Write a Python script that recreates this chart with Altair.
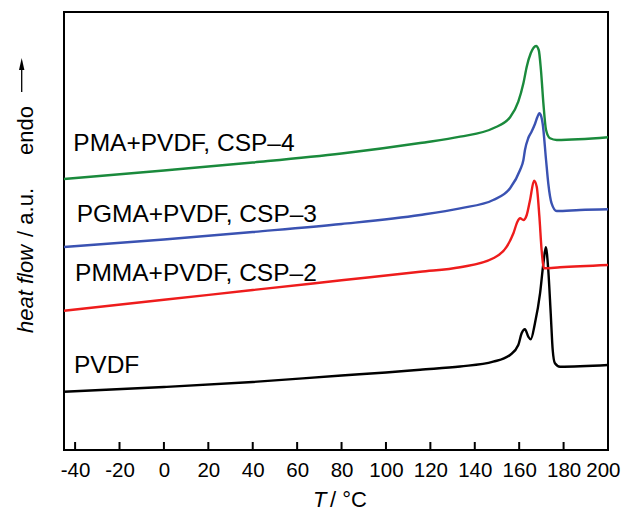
import altair as alt
import pandas as pd

# ---- data (T in °C, heat flow in arbitrary units) ----
pvdf_T = [-45, 0, 40, 80, 100, 115.4, 133.4, 148.3, 155.9, 159.6, 161.1, 162.6, 164.1, 165.2,
          167.1, 169.4, 170.9, 172, 173.1, 174.2, 175.1, 176.1, 178.4, 200]
pvdf_hf = [58.3, 63, 68, 74.5, 77.5, 80.3, 83.5, 88.3, 95, 105, 116.7, 120.7, 113.3, 110.7,
           126.7, 156.7, 186.7, 202.7, 180, 136.7, 100, 86.7, 83.3, 85]

pmma_T = [-45, 0, 40, 80, 115.4, 133.4, 148.3, 154.4, 157.4, 159.2, 160.4, 161.9, 163.4,
          164.9, 166.7, 167.9, 169.1, 170.1, 171.2, 178.4, 200]
pmma_hf = [139.3, 150.2, 160, 169.7, 178.3, 182.7, 191.7, 203.3, 216.7, 228.3, 231.7, 230, 235,
           250, 269.3, 263.3, 233.3, 200, 181.7, 182.7, 185]

pgma_T = [-45, 0, 40, 80, 115.4, 133.4, 148.3, 155.9, 160.4, 161.9, 162.6, 164.1, 165.5,
          167.1, 168.2, 169.1, 170.0, 170.6, 172.1, 173.1, 174.6, 176.9, 187.4, 200]
pgma_hf = [203, 210.5, 218, 226, 235, 241.7, 250, 261.7, 280, 290, 300, 312, 318,
           326, 333, 336.7, 333, 326, 290, 266.7, 246.7, 239, 240, 240.7]

pma_T = [-45, 0, 40, 80, 115.4, 133.4, 148.3, 155.9, 159.6, 161.9, 163.4, 165.2, 167.6,
         168.8, 169.8, 170.9, 172.1, 173.9, 176.9, 200]
pma_hf = [271, 279.5, 287.5, 296.5, 307, 313.3, 321.7, 332.7, 348.3, 366.7, 383.3, 396.7, 404,
          400, 380, 346.7, 320, 311.7, 310, 312.7]

series_names = ["PVDF", "PMMA+PVDF, CSP–2", "PGMA+PVDF, CSP–3", "PMA+PVDF, CSP–4"]
series_colors = ["#000000", "#ee1c1c", "#3a52b2", "#1a8a3c"]

# curve labels (anchor: left / baseline)
label_text = ["PVDF", "PMMA+PVDF, CSP–2", "PGMA+PVDF, CSP–3", "PMA+PVDF, CSP–4"]
label_T = [-40.5, -40.0, -39.3, -40.8]
label_hf = [76.7, 169.3, 228, 299.3]

x_ticks = list(range(-40, 201, 20))

# ---- build tables ----
rows = []
for name, Ts, hfs in zip(series_names,
                         [pvdf_T, pmma_T, pgma_T, pma_T],
                         [pvdf_hf, pmma_hf, pgma_hf, pma_hf]):
    for t, h in zip(Ts, hfs):
        rows.append({"series": name, "T": t, "hf": h})
df = pd.DataFrame(rows)
labels_df = pd.DataFrame({"text": label_text, "T": label_T, "hf": label_hf})
ticks_df = pd.DataFrame({"T": x_ticks, "y0": [0] * len(x_ticks), "y1": [8] * len(x_ticks)})

FONT = "Liberation Sans"
xscale = alt.Scale(domain=[-45, 200], nice=False, zero=False)
yscale = alt.Scale(domain=[0, 438], nice=False, zero=False)

lines = alt.Chart(df).mark_line(strokeWidth=2.4, interpolate="monotone").encode(
    x=alt.X("T:Q", scale=xscale,
            axis=alt.Axis(values=x_ticks, ticks=False, domain=False, grid=False,
                          labelFont=FONT, labelFontSize=20.5, labelColor="black",
                          labelOverlap=False, labelBound=False,
                          labelFlush=1, labelFlushOffset=12,
                          labelPadding=10, labelExpr="'' + datum.value", title=None)),
    y=alt.Y("hf:Q", scale=yscale, axis=None),
    color=alt.Color("series:N", scale=alt.Scale(domain=series_names, range=series_colors),
                    legend=None),
    detail="series:N",
)

ticks = alt.Chart(ticks_df).mark_rule(color="black", strokeWidth=2).encode(
    x=alt.X("T:Q", scale=xscale),
    y=alt.Y("y0:Q", scale=yscale),
    y2="y1:Q",
)

curve_labels = alt.Chart(labels_df).mark_text(
    font=FONT, fontSize=24.5, align="left", baseline="alphabetic", color="black"
).encode(x=alt.X("T:Q", scale=xscale), y=alt.Y("hf:Q", scale=yscale), text="text:N")

# axis titles as text in data coordinates (outside the domain)
title_df = pd.DataFrame({
    "text": ["T", "/ °C"],
    "T": [67.1, 74.8],
    "hf": [-57.3, -57.3],
    "style": ["italic", "normal"],
})
xtitle_it = alt.Chart(title_df[title_df["style"] == "italic"]).mark_text(
    font=FONT, fontSize=22, fontStyle="italic", align="left", baseline="alphabetic", color="black"
).encode(x=alt.X("T:Q", scale=xscale), y=alt.Y("hf:Q", scale=yscale), text="text:N")
xtitle_n = alt.Chart(title_df[title_df["style"] == "normal"]).mark_text(
    font=FONT, fontSize=22, align="left", baseline="alphabetic", color="black"
).encode(x=alt.X("T:Q", scale=xscale), y=alt.Y("hf:Q", scale=yscale), text="text:N")

ytitle_df = pd.DataFrame({
    "text": ["heat flow", "/ a.u.", "endo"],
    "T": [-59.0, -59.0, -59.0],
    "hf": [117, 262, 295],
})
yt_heat = alt.Chart(ytitle_df.iloc[[0]]).mark_text(
    font=FONT, fontSize=22, fontStyle="italic", angle=270, align="left",
    baseline="alphabetic", color="black"
).encode(x=alt.X("T:Q", scale=xscale), y=alt.Y("hf:Q", scale=yscale), text="text:N")
yt_au = alt.Chart(ytitle_df.iloc[[1]]).mark_text(
    font=FONT, fontSize=22, angle=270, align="right", baseline="alphabetic", color="black"
).encode(x=alt.X("T:Q", scale=xscale), y=alt.Y("hf:Q", scale=yscale), text="text:N")
yt_endo = alt.Chart(ytitle_df.iloc[[2]]).mark_text(
    font=FONT, fontSize=22, angle=270, align="left", baseline="alphabetic", color="black"
).encode(x=alt.X("T:Q", scale=xscale), y=alt.Y("hf:Q", scale=yscale), text="text:N")

arrow_df = pd.DataFrame({"T": [-64.05], "y0": [358], "y1": [384], "tip": [386]})
arrow_line = alt.Chart(arrow_df).mark_rule(color="black", strokeWidth=1.3).encode(
    x=alt.X("T:Q", scale=xscale), y=alt.Y("y0:Q", scale=yscale), y2="y1:Q")
arrow_head = alt.Chart(arrow_df).mark_point(
    shape="M0,-1L0.45,1L-0.45,1Z", size=144, filled=True, color="black", opacity=1
).encode(x=alt.X("T:Q", scale=xscale), y=alt.Y("tip:Q", scale=yscale))

chart = alt.layer(
    lines, ticks, curve_labels, xtitle_it, xtitle_n, yt_heat, yt_au, yt_endo,
    arrow_line, arrow_head
).properties(
    width=544, height=438,
    autosize=alt.AutoSizeParams(type="none"),
    padding={"left": 56, "top": 4, "right": 13, "bottom": 62},
    background="white",
).configure_view(stroke="black", strokeWidth=2)

chart.save("out.html", embed_options={"renderer": "svg", "actions": False})
